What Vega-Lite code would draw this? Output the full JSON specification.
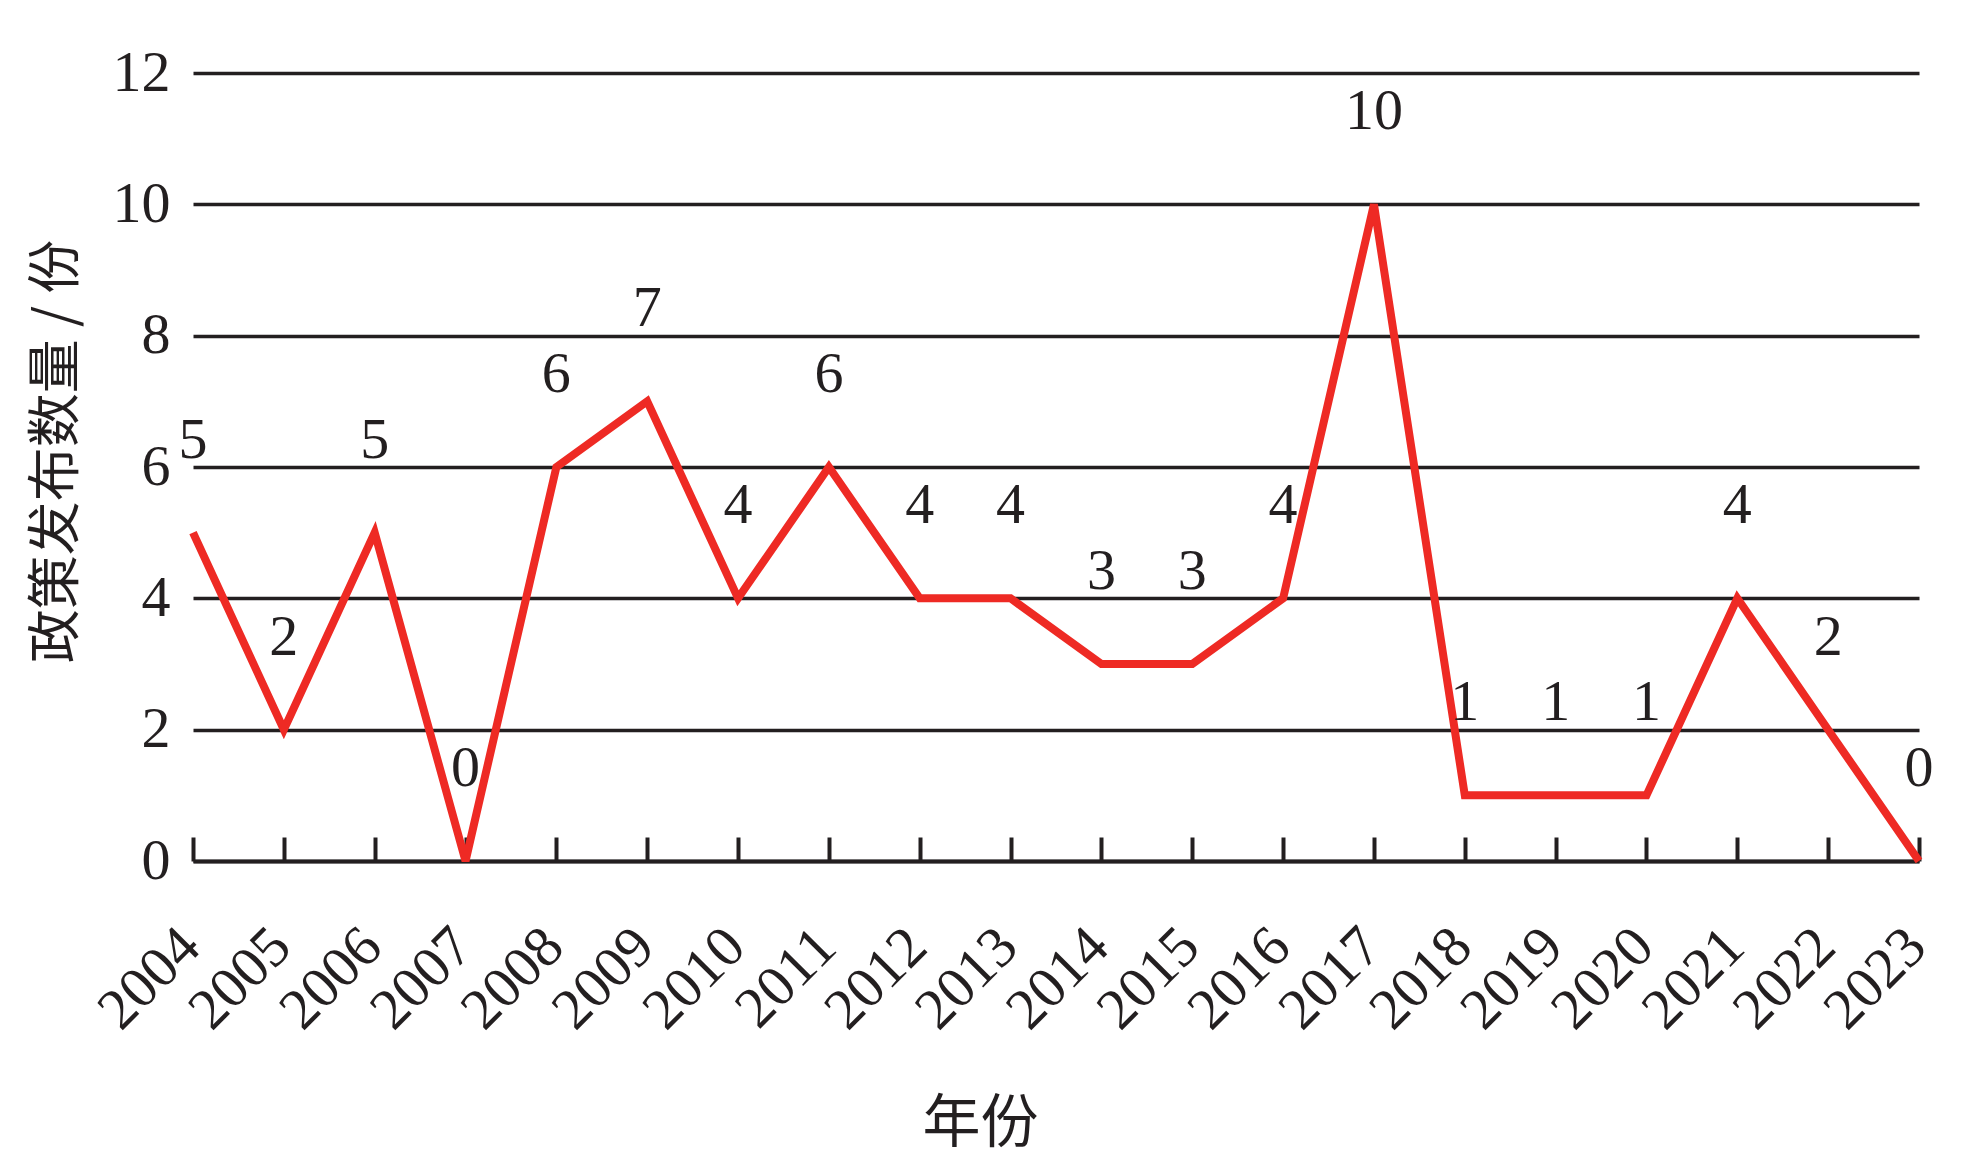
{
  "$schema": "https://vega.github.io/schema/vega-lite/v6.json",
  "width": 1726,
  "height": 788,
  "autosize": {"type": "none"},
  "padding": {"left": 193, "top": 73, "right": 64, "bottom": 306},
  "background": "white",
  "config": {"view": {"stroke": null}},
  "data": {
    "values": [
      {"year": "2004", "count": 5},
      {"year": "2005", "count": 2},
      {"year": "2006", "count": 5},
      {"year": "2007", "count": 0},
      {"year": "2008", "count": 6},
      {"year": "2009", "count": 7},
      {"year": "2010", "count": 4},
      {"year": "2011", "count": 6},
      {"year": "2012", "count": 4},
      {"year": "2013", "count": 4},
      {"year": "2014", "count": 3},
      {"year": "2015", "count": 3},
      {"year": "2016", "count": 4},
      {"year": "2017", "count": 10},
      {"year": "2018", "count": 1},
      {"year": "2019", "count": 1},
      {"year": "2020", "count": 1},
      {"year": "2021", "count": 4},
      {"year": "2022", "count": 2},
      {"year": "2023", "count": 0}
    ]
  },
  "encoding": {
    "x": {
      "field": "year",
      "type": "ordinal",
      "sort": null,
      "scale": {"type": "point", "padding": 0},
      "axis": {
        "title": "年份",
        "titleFont": "Noto Sans CJK SC",
        "titleFontSize": 58,
        "titleFontWeight": "normal",
        "titleColor": "#231F20",
        "titleX": 787,
        "titleY": 263,
        "titleAlign": "center",
        "titleBaseline": "middle",
        "titleAngle": 0,
        "labelAngle": -45,
        "labelAlign": "right",
        "labelBaseline": "top",
        "labelFont": "Liberation Serif",
        "labelFontSize": 58,
        "labelColor": "#231F20",
        "labelPadding": 80,
        "labelOffset": -23,
        "labelOverlap": false,
        "labelBound": false,
        "labelFlush": false,
        "domainColor": "#231F20",
        "domainWidth": 4,
        "ticks": true,
        "tickColor": "#231F20",
        "tickWidth": 4,
        "tickSize": -24,
        "grid": false
      }
    },
    "y": {
      "field": "count",
      "type": "quantitative",
      "scale": {"domain": [0, 12], "nice": false, "zero": true},
      "axis": {
        "title": "政策发布数量 / 份",
        "titleFont": "Noto Sans CJK SC",
        "titleFontSize": 54,
        "titleFontWeight": "normal",
        "titleColor": "#231F20",
        "titleAngle": -90,
        "titleX": -136,
        "titleY": 378,
        "titleAlign": "center",
        "titleBaseline": "middle",
        "values": [0, 2, 4, 6, 8, 10, 12],
        "labelFont": "Liberation Serif",
        "labelFontSize": 58,
        "labelColor": "#231F20",
        "labelPadding": 23,
        "labelBaseline": "middle",
        "domain": false,
        "ticks": false,
        "grid": true,
        "gridColor": "#231F20",
        "gridWidth": 3.5,
        "gridOpacity": 1
      }
    }
  },
  "layer": [
    {
      "mark": {"type": "line", "color": "#EE2A24", "strokeWidth": 8, "strokeCap": "butt", "strokeJoin": "miter"}
    },
    {
      "mark": {"type": "text", "font": "Liberation Serif", "fontSize": 58, "baseline": "alphabetic", "align": "center", "dy": -75, "dx": 0, "color": "#231F20"},
      "encoding": {"text": {"field": "count", "type": "quantitative"}}
    }
  ]
}
